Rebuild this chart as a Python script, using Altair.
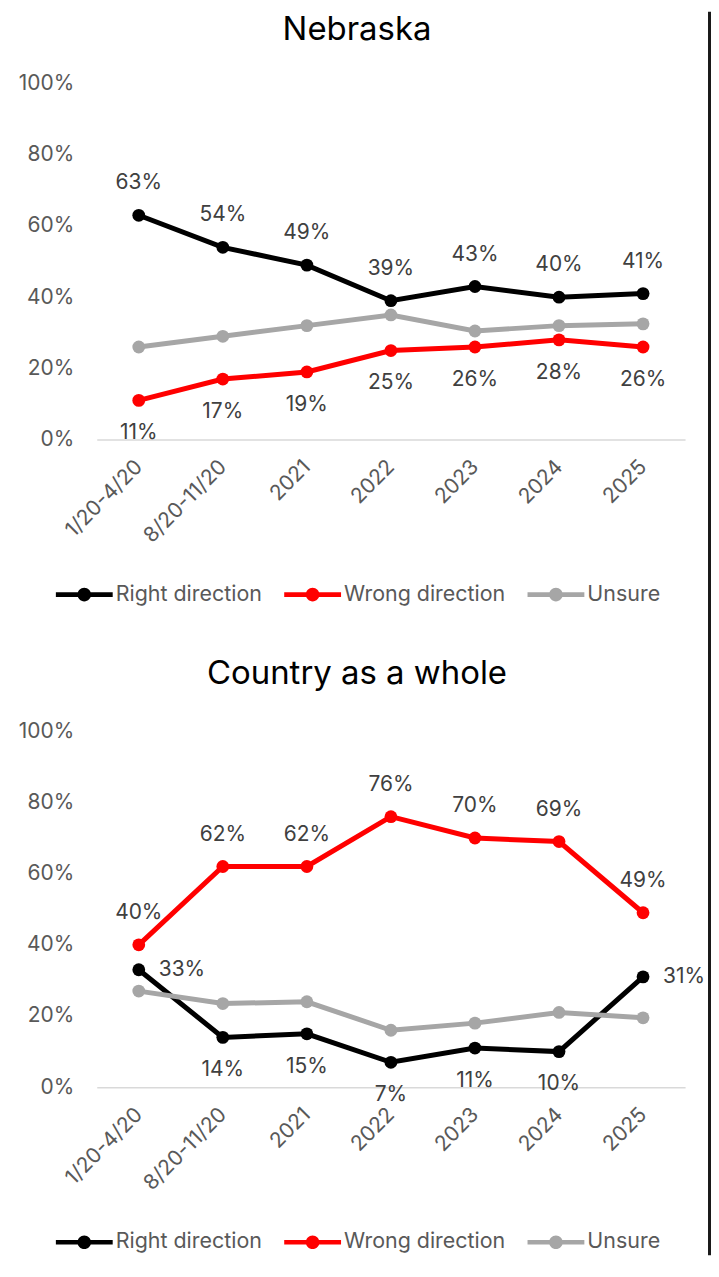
import altair as alt
import pandas as pd

# ---------------- data ----------------
categories = ["1/20-4/20", "8/20-11/20", "2021", "2022", "2023", "2024", "2025"]
series_names = ["Right direction", "Wrong direction", "Unsure"]
series_colors = ["#000000", "#FF0000", "#A6A6A6"]

ne_right = [63, 54, 49, 39, 43, 40, 41]
ne_wrong = [11, 17, 19, 25, 26, 28, 26]
ne_unsure = [26, 29, 32, 35, 30.5, 32, 32.5]

us_right = [33, 14, 15, 7, 11, 10, 31]
us_wrong = [40, 62, 62, 76, 70, 69, 49]
us_unsure = [27, 23.5, 24, 16, 18, 21, 19.5]

titles = ["Nebraska", "Country as a whole"]

FONT = "Inter"
LABEL_SIZE = 21
W, H = 590, 357

# legend symbol: a short thick line with a dot in the middle
LEGEND_PATH = ("M-1,-0.082L1,-0.082L1,0.082L-1,0.082Z"
               "M0.24,0A0.24,0.24 0 1 1 -0.24,0A0.24,0.24 0 1 1 0.24,0Z")


def placement(panel, series, i):
    if series == "Unsure":
        return "none"
    if panel == 0:
        return "above" if series == "Right direction" else "below"
    if series == "Wrong direction":
        return "above"
    return "right" if i in (0, len(categories) - 1) else "below"


def build_frame(panel, right, wrong, unsure):
    rows = []
    for name, vals in zip(series_names, [right, wrong, unsure]):
        for i, (c, v) in enumerate(zip(categories, vals)):
            rows.append({"cat": c, "series": name, "value": v / 100.0,
                         "place": placement(panel, name, i)})
    return pd.DataFrame(rows)


def panel_chart(df, title, title_y, rule_top, rule_bottom):
    x = alt.X("cat:N", sort=categories, title=None,
              scale=alt.Scale(type="point", padding=0.5),
              axis=alt.Axis(labelAngle=-45, labelAlign="right", labelBaseline="middle",
                            labelPadding=24, ticks=False, domainColor="#D9D9D9",
                            domainWidth=1.5, labelFontSize=LABEL_SIZE,
                            labelColor="#595959", labelFont=FONT, grid=False))
    y = alt.Y("value:Q", title=None,
              scale=alt.Scale(domain=[0, 1], nice=False),
              axis=alt.Axis(values=[0, 0.2, 0.4, 0.6, 0.8, 1.0], format=".0%",
                            domain=False, ticks=False, grid=False, labelPadding=23,
                            labelFontSize=LABEL_SIZE, labelColor="#595959",
                            labelFont=FONT))
    base = alt.Chart(df)

    # one line layer per series (fixed colours, so only the points carry the legend)
    line_layers = [
        base.transform_filter(alt.datum.series == name).mark_line(
            strokeWidth=5, color=col).encode(x=x, y=y)
        for name, col in zip(series_names, series_colors)
    ]
    points = base.mark_point(filled=True, size=165, opacity=1).encode(
        x=x, y=y,
        color=alt.Color("series:N",
                        scale=alt.Scale(domain=series_names, range=series_colors),
                        legend=alt.Legend(title=None, orient="none", legendX=-41,
                                          legendY=484, direction="horizontal",
                                          symbolType=LEGEND_PATH, symbolSize=3249,
                                          symbolStrokeWidth=0, symbolOpacity=1,
                                          labelFontSize=21.5, labelFont=FONT,
                                          labelColor="#595959", labelOffset=3,
                                          labelLimit=400, columnPadding=22)))
    txt = dict(fontSize=LABEL_SIZE, font=FONT, color="#404040")
    above = base.transform_filter(alt.datum.place == "above").mark_text(
        dy=-32, **txt).encode(x=x, y=y, text=alt.Text("value:Q", format=".0%"))
    below = base.transform_filter(alt.datum.place == "below").mark_text(
        dy=33, **txt).encode(x=x, y=y, text=alt.Text("value:Q", format=".0%"))
    right = base.transform_filter(alt.datum.place == "right").mark_text(
        dx=20, align="left", **txt).encode(x=x, y=y, text=alt.Text("value:Q", format=".0%"))
    head = alt.Chart(pd.DataFrame({"t": [title]})).mark_text(
        fontSize=33, font=FONT, color="#000000", align="center", baseline="middle"
    ).encode(text="t:N", x=alt.value(261), y=alt.value(title_y))
    border = alt.Chart(pd.DataFrame({"t": [title]})).mark_rule(
        color="#1A1A1A", strokeWidth=3).encode(
        x=alt.value(614.5), y=alt.value(rule_top), y2=alt.value(rule_bottom))

    return alt.layer(*line_layers, points, above, below, right, head, border).properties(
        width=W, height=H)


df_ne = build_frame(0, ne_right, ne_wrong, ne_unsure)
df_us = build_frame(1, us_right, us_wrong, us_unsure)

top = panel_chart(df_ne, titles[0], -54, -72, 572)
bottom = panel_chart(df_us, titles[1], -57, -80, 525.5)

chart = alt.vconcat(top, bottom, spacing=292.5, bounds="flush").resolve_scale(
    color="independent").resolve_legend(color="independent").properties(
    padding={"left": 10, "top": 0, "right": 0, "bottom": 0}
).configure_view(stroke=None)

chart.save("out.html", embed_options={"renderer": "svg", "actions": False})
